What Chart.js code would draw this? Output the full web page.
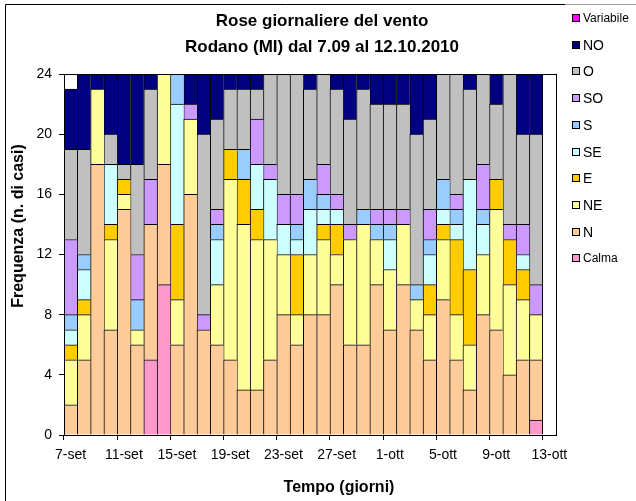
<!DOCTYPE html>
<html>
<head>
<meta charset="utf-8">
<script src="https://cdn.jsdelivr.net/npm/chart.js@4"></script>
<style>
  html, body { margin: 0; padding: 0; background: #fff; }
</style>
</head>
<body>
<canvas id="myChart" width="636" height="501"></canvas>
<script>
// DATI
const giorni = [
    '7-set', '8-set', '9-set', '10-set', '11-set', '12-set', '13-set', '14-set', '15-set', '16-set',
    '17-set', '18-set', '19-set', '20-set', '21-set', '22-set', '23-set', '24-set', '25-set', '26-set',
    '27-set', '28-set', '29-set', '30-set', '1-ott', '2-ott', '3-ott', '4-ott', '5-ott', '6-ott',
    '7-ott', '8-ott', '9-ott', '10-ott', '11-ott', '12-ott', '13-ott'
];
const titolo = ['Rose giornaliere del vento', 'Rodano (MI) dal 7.09 al 12.10.2010'];
const titoloX = 'Tempo (giorni)';
const titoloY = 'Frequenza (n. di casi)';
const yTicks = [0, 4, 8, 12, 16, 20, 24];

// ore per direzione (dal basso verso l'alto)
const calma     = [0,0,0,0,0,0,5,10,0,0,0,0,0,0,0,0,0,0,0,0,0,0,0,0,0,0,0,0,0,0,0,0,0,0,0,1,0];
const nord      = [2,5,18,7,15,6,9,8,6,16,7,6,5,3,3,5,8,6,8,8,10,6,6,10,7,10,7,5,9,5,3,8,7,4,5,4,0];
const nordEst   = [3,3,5,6,1,1,0,6,3,5,0,4,12,11,10,8,4,2,4,5,2,7,8,3,4,4,2,3,4,3,3,4,8,6,4,3,0];
const est       = [1,1,0,1,1,0,0,0,5,0,0,0,2,3,2,0,0,4,0,1,2,0,0,0,0,0,0,2,1,5,5,0,2,3,2,0,0];
const sudEst    = [1,2,0,4,0,0,0,0,8,0,0,3,0,0,3,4,2,1,3,1,1,0,0,0,2,0,0,2,1,1,6,2,0,0,1,0,0];
const sud       = [1,1,0,0,0,2,0,0,2,0,0,1,0,2,0,0,0,1,2,1,0,0,1,1,1,0,1,1,2,1,0,1,0,0,0,0,0];
const sudOvest  = [5,0,0,0,0,3,3,0,0,1,1,1,0,0,3,1,2,2,0,2,1,1,0,1,1,1,0,2,0,1,0,3,0,1,2,2,0];
const ovest     = [6,7,0,2,1,6,6,0,0,0,12,6,4,4,2,6,8,8,6,6,7,7,8,7,7,7,10,6,7,8,6,6,5,10,6,10,0];
const nordOvest = [4,5,1,4,6,6,1,0,0,2,4,3,1,1,1,0,0,0,1,0,1,3,1,2,2,2,4,3,0,0,1,0,2,0,4,4,0];
const variabile = [0,0,0,0,0,0,0,0,0,0,0,0,0,0,0,0,0,0,0,0,0,0,0,0,0,0,0,0,0,0,0,0,0,0,0,0,0];

const serie = [
    { label: 'Calma', data: calma, color: '#FF99CC' },
    { label: 'N', data: nord, color: '#FFCC99' },
    { label: 'NE', data: nordEst, color: '#FFFF99' },
    { label: 'E', data: est, color: '#FFCC00' },
    { label: 'SE', data: sudEst, color: '#CCFFFF' },
    { label: 'S', data: sud, color: '#99CCFF' },
    { label: 'SO', data: sudOvest, color: '#CC99FF' },
    { label: 'O', data: ovest, color: '#C0C0C0' },
    { label: 'NO', data: nordOvest, color: '#000080' },
    { label: 'Variabile', data: variabile, color: '#FF00FF' }
];

const FONT = "'Liberation Sans', Arial, sans-serif";
const ultimaBarra = giorni.length - 2;

// PLUGIN: cornice, titoli e legenda
const extras = {
    id: 'extras',
    afterDraw(chart) {
        const ctx = chart.ctx;
        const a = chart.chartArea;
        ctx.save();
        // bordo area del grafico
        ctx.strokeStyle = '#000';
        ctx.lineWidth = 1;
        ctx.strokeRect(Math.round(a.left) + 0.5, Math.round(a.top) + 0.5,
            Math.round(a.right - a.left), Math.round(a.bottom - a.top));
        // cornice esterna
        ctx.beginPath();
        ctx.moveTo(5.5, 501);
        ctx.lineTo(5.5, 4.5);
        ctx.lineTo(565, 4.5);
        ctx.stroke();
        ctx.strokeStyle = '#999';
        ctx.beginPath();
        ctx.moveTo(565, 4.5);
        ctx.lineTo(636, 4.5);
        ctx.stroke();

        // titolo
        ctx.fillStyle = '#000';
        ctx.textAlign = 'center';
        ctx.textBaseline = 'middle';
        ctx.font = 'bold 17px ' + FONT;
        ctx.fillText(titolo[0], 322, 21);
        ctx.fillText(titolo[1], 322, 47);

        // titoli degli assi
        ctx.font = 'bold 16px ' + FONT;
        ctx.fillText(titoloX, 339, 488);
        ctx.save();
        ctx.translate(19, 226);
        ctx.rotate(-Math.PI / 2);
        ctx.fillText(titoloY, 0, 0);
        ctx.restore();

        // legenda
        const ds = chart.data.datasets.slice().reverse();
        ds.forEach((d, i) => {
            const y = Math.round(18 + i * 26.7);
            ctx.fillStyle = d.backgroundColor;
            ctx.fillRect(572.5, y - 3.5, 7, 7);
            ctx.strokeStyle = '#000';
            ctx.strokeRect(572.5, y - 3.5, 7, 7);
            ctx.fillStyle = '#000';
            ctx.textAlign = 'left';
            const piccolo = d.label === 'Variabile' || d.label === 'Calma';
            ctx.font = (piccolo ? '12px ' : '14px ') + FONT;
            ctx.fillText(d.label, 583, y + 1);
        });
        ctx.restore();
    }
};

const ctx = document.getElementById('myChart');
new Chart(ctx, {
    type: 'bar',
    data: {
        labels: giorni,
        datasets: serie.map(s => ({
            label: s.label,
            data: s.data,
            backgroundColor: s.color,
            borderColor: '#000',
            borderSkipped: false,
            borderWidth: c => ({ top: 1, left: 1, bottom: 0, right: c.dataIndex === ultimaBarra ? 1 : 0 }),
            categoryPercentage: 1,
            barPercentage: 1
        }))
    },
    options: {
        responsive: false,
        animation: false,
        devicePixelRatio: 1,
        layout: { padding: { top: 74, right: 80, left: 0, bottom: 0 } },
        plugins: {
            legend: { display: false },
            title: { display: false },
            tooltip: { enabled: false }
        },
        scales: {
            x: {
                stacked: true,
                offset: true,
                grid: {
                    offset: true,
                    drawOnChartArea: false,
                    tickLength: 5,
                    color: c => (c.index % 4 === 0 ? '#000' : 'rgba(0,0,0,0)')
                },
                border: { color: '#000', width: 1 },
                ticks: {
                    autoSkip: false,
                    maxRotation: 0,
                    minRotation: 0,
                    padding: 7,
                    color: '#000',
                    font: { family: FONT, size: 14 },
                    callback: (v, i) => (i % 4 === 0 ? giorni[i] : '')
                },
                afterFit: s => { s.height = 66; }
            },
            y: {
                stacked: true,
                min: 0,
                max: 24,
                afterBuildTicks: s => { s.ticks = yTicks.map(v => ({ value: v })); },
                grid: { drawOnChartArea: false, tickLength: 5, color: '#000' },
                border: { color: '#000', width: 1 },
                ticks: {
                    padding: 7,
                    color: '#000',
                    font: { family: FONT, size: 14 }
                },
                afterFit: s => { s.width = 64; }
            }
        }
    },
    plugins: [extras]
});
</script>
</body>
</html>
